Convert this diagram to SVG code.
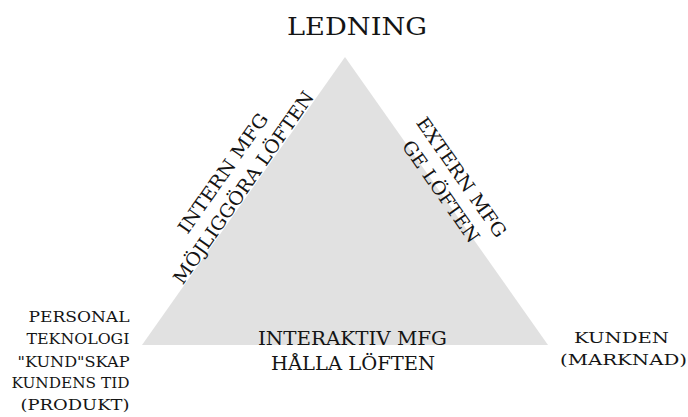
<svg xmlns="http://www.w3.org/2000/svg" width="688" height="417" viewBox="0 0 688 417">
<style>
text{font-family:"DejaVu Serif","Liberation Serif",serif;fill:#141414}
.big{font-size:24.5px}
.mid{font-size:18.5px}
.sm{font-size:15.5px}
</style>
<rect width="688" height="417" fill="#ffffff"/>
<g id="triangle">
<polygon points="345,57 142,345 548,345" fill="#e1e1e1"/>
</g>
<g id="connectors"/>
<g id="ledning">
<text class="big" x="357" y="35" text-anchor="middle" textLength="140" lengthAdjust="spacingAndGlyphs">LEDNING</text>
</g>
<g id="personal">
<text class="sm" x="129.5" y="322.3" text-anchor="end" textLength="101" lengthAdjust="spacingAndGlyphs">PERSONAL</text>
<text class="sm" x="129.5" y="344.3" text-anchor="end" textLength="103" lengthAdjust="spacingAndGlyphs">TEKNOLOGI</text>
<text class="sm" x="129.5" y="366.5" text-anchor="end" textLength="112" lengthAdjust="spacingAndGlyphs">"KUND"SKAP</text>
<text class="sm" x="129.5" y="388" text-anchor="end" textLength="118" lengthAdjust="spacingAndGlyphs">KUNDENS TID</text>
<text class="sm" x="129.5" y="409.5" text-anchor="end" textLength="109" lengthAdjust="spacingAndGlyphs">(PRODUKT)</text>
</g>
<g id="kunden">
<text class="sm" x="621.5" y="343" text-anchor="middle" textLength="95" lengthAdjust="spacingAndGlyphs">KUNDEN</text>
<text class="sm" x="623.5" y="365" text-anchor="middle" textLength="127" lengthAdjust="spacingAndGlyphs">(MARKNAD)</text>
</g>
<g id="interaktiv">
<text class="mid" x="352.5" y="345" text-anchor="middle" textLength="189" lengthAdjust="spacingAndGlyphs">INTERAKTIV MFG</text>
<text class="mid" x="353" y="370" text-anchor="middle" textLength="164" lengthAdjust="spacingAndGlyphs">HÅLLA LÖFTEN</text>
</g>
<g id="intern" transform="translate(248.8,191.2) rotate(-55)">
<text class="mid" x="0" y="-25" text-anchor="middle" textLength="142" lengthAdjust="spacingAndGlyphs">INTERN MFG</text>
<text class="mid" x="0" y="0" text-anchor="middle" textLength="230" lengthAdjust="spacingAndGlyphs">MÖJLIGGÖRA LÖFTEN</text>
</g>
<g id="extern" transform="translate(435.7,195.2) rotate(55)">
<text class="mid" x="0" y="-25" text-anchor="middle" textLength="142" lengthAdjust="spacingAndGlyphs">EXTERN MFG</text>
<text class="mid" x="0" y="0" text-anchor="middle" textLength="120" lengthAdjust="spacingAndGlyphs">GE LÖFTEN</text>
</g>
</svg>
